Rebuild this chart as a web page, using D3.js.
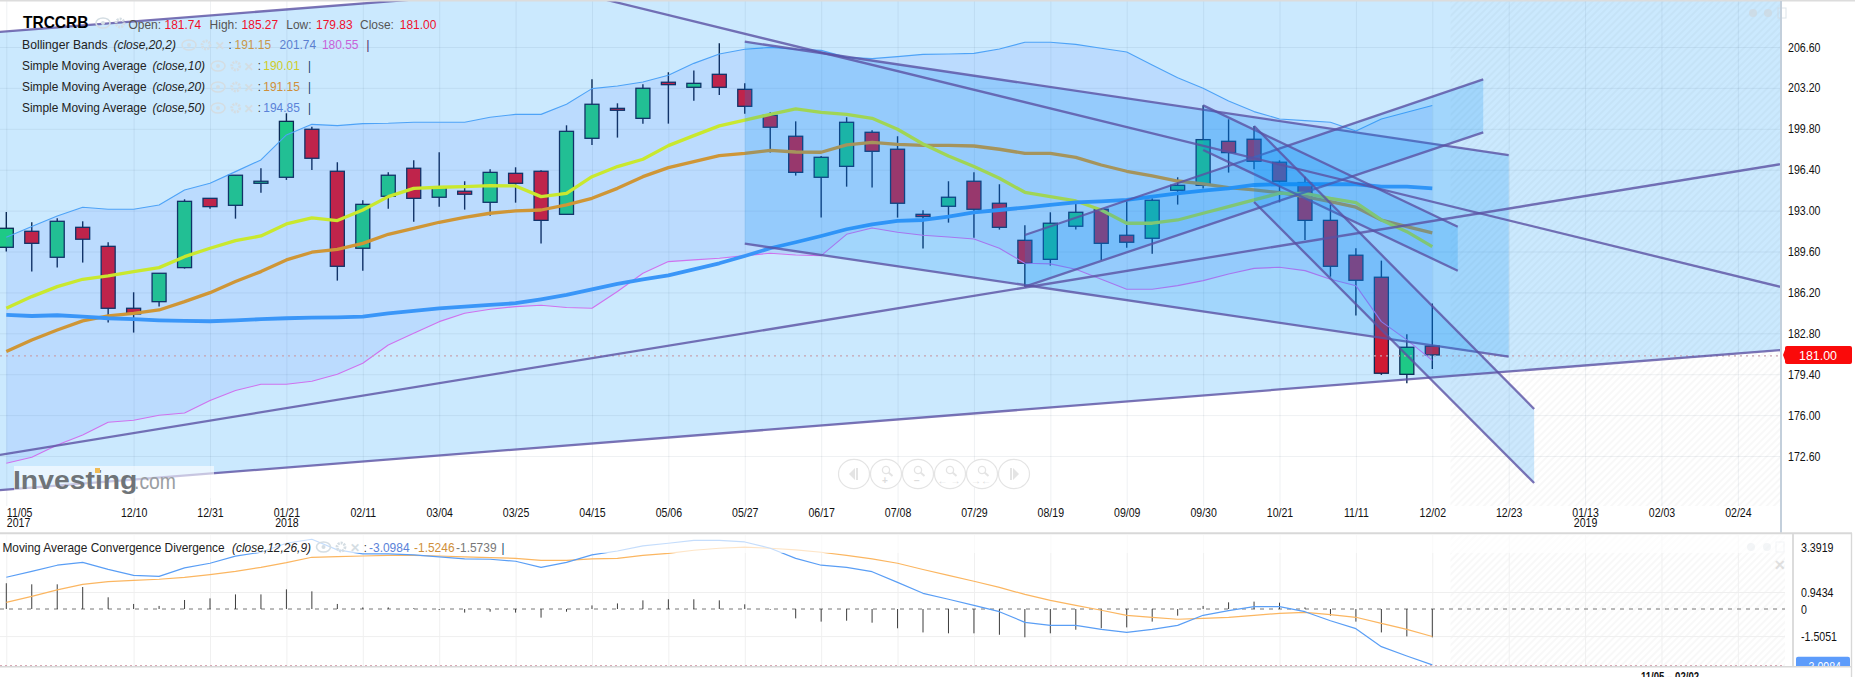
<!DOCTYPE html>
<html>
<head>
<meta charset="utf-8">
<title>TRCCRB</title>
<script src="https://cdn.jsdelivr.net/npm/d3@7"></script>
<style>
	html, body { margin: 0; padding: 0; background: #fff; overflow: hidden; }
	svg { display: block; }
	text { font-family: "Liberation Sans", Arial, sans-serif; }
</style>
</head>
<body>
<svg id="chart" width="1855" height="677"></svg>
<script>
// weekly candles, one entry per week from 11/05/2017 to 12/02/2018
var opens = [189.95,191.28,189.12,191.61,190.03,184.88,185.43,188.26,194.02,193.44,195.27,195.77,199.76,196.27,189.87,194.19,196.52,194.11,194.61,193.69,196.10,196.27,192.69,199.01,201.50,200.67,203.67,203.25,204.33,203.08,200.92,199.18,195.77,196.68,199.51,198.10,192.69,193.36,195.44,193.61,190.53,188.95,191.70,193.11,190.95,190.70,194.69,195.10,198.76,198.93,197.02,195.33,192.19,189.29,187.46,179.39,181.74];
var closes = [191.53,190.28,192.11,190.62,184.88,184.41,187.79,193.77,193.33,195.94,195.44,200.42,197.35,188.37,193.52,195.94,194.02,194.99,194.36,196.18,195.27,192.19,199.59,201.84,201.34,203.17,203.47,203.58,203.25,201.67,199.93,196.18,197.43,200.34,197.93,193.61,192.50,194.11,193.11,191.61,188.62,191.95,192.86,190.28,190.37,193.86,195.10,198.90,197.82,197.10,195.44,192.19,188.37,187.21,179.48,181.64,181.00];
var highs = [192.89,192.03,192.36,192.11,190.37,186.21,187.79,193.94,194.02,195.94,196.52,201.09,199.98,197.02,193.86,196.18,197.18,197.85,195.44,196.43,196.60,196.35,200.09,203.92,201.92,203.50,204.50,204.64,206.91,203.58,201.17,200.42,197.54,200.76,199.68,199.18,193.03,195.44,196.18,195.19,191.78,192.86,193.61,193.19,193.89,194.02,195.77,201.75,200.59,200.04,197.18,195.82,193.50,189.87,188.84,182.72,185.27];
var lows = [189.59,187.93,188.26,188.68,183.69,182.86,185.02,188.18,193.16,192.33,194.49,195.55,196.38,187.18,188.01,193.16,192.08,193.33,193.08,192.58,193.66,190.26,192.69,198.46,199.07,200.23,200.23,202.14,202.61,201.06,197.82,195.91,192.42,194.99,194.91,192.42,189.84,192.00,190.75,191.42,186.68,188.43,191.42,188.90,189.92,189.42,193.50,194.83,196.16,196.43,193.69,190.56,187.51,184.27,179.34,178.65,179.83];

var sma10 = [184.88,185.85,186.68,187.29,187.57,187.93,188.26,189.17,189.87,190.50,190.89,191.89,192.39,192.17,193.05,194.16,194.85,194.94,194.99,195.08,195.05,194.16,194.44,195.82,196.66,197.27,198.40,199.23,200.04,200.53,201.00,201.45,201.17,201.00,200.67,199.76,198.54,197.54,196.66,195.69,194.52,194.16,193.80,193.05,191.95,191.95,192.22,192.78,193.33,193.89,194.44,194.44,194.02,193.66,192.22,191.25,190.01];
var sma20 = [181.28,182.25,183.08,183.83,184.24,184.46,184.74,185.43,186.18,187.10,187.93,188.90,189.54,189.78,190.28,191.03,191.53,192.03,192.44,192.78,192.97,193.05,193.47,194.02,194.85,195.82,196.57,197.07,197.57,197.76,198.01,197.87,197.85,198.46,198.68,198.51,198.43,198.43,198.37,198.10,197.76,197.76,197.43,196.79,196.27,195.88,195.46,195.22,194.91,194.72,194.49,194.16,193.75,193.28,192.22,191.67,191.15];
var sma50 = [184.33,184.24,184.30,184.19,184.05,183.97,183.88,183.83,183.80,183.88,183.97,184.05,184.10,184.13,184.19,184.46,184.66,184.88,185.02,185.16,185.30,185.63,185.99,186.46,186.90,187.29,187.62,188.12,188.62,189.23,189.87,190.37,190.89,191.45,191.86,192.14,192.22,192.50,192.86,193.05,193.25,193.47,193.69,193.77,193.89,194.16,194.44,194.66,194.85,195.13,195.19,195.19,195.19,195.19,194.99,194.99,194.85];
var bbUpper = [190.78,191.67,192.55,193.28,193.11,193.11,193.47,194.72,195.27,196.24,197.21,199.29,200.17,200.06,200.23,200.26,200.34,200.34,200.34,200.76,201.00,201.00,201.84,203.14,203.36,203.69,204.25,205.24,206.02,206.41,206.57,206.41,206.32,205.74,205.63,205.80,205.99,206.02,206.07,206.44,206.99,206.99,206.82,206.49,206.19,205.10,204.05,203.17,202.11,201.23,200.62,200.48,200.34,199.62,200.62,201.17,201.74];
var bbLower = [172.00,172.49,173.52,174.35,175.40,175.57,175.99,176.18,177.21,178.04,178.56,178.56,178.81,179.39,180.31,181.83,182.80,183.77,184.46,184.80,185.02,185.13,184.94,184.88,186.27,187.79,188.76,188.90,189.04,189.26,189.45,189.31,189.26,191.03,191.56,191.20,190.95,190.81,190.64,189.87,188.62,188.57,188.12,187.29,186.46,186.46,186.76,187.18,187.73,188.20,188.29,188.01,187.29,186.76,183.77,182.25,180.55];

var macdLine = [1.76,2.09,2.43,2.59,2.20,1.87,1.81,2.28,2.54,2.93,3.15,3.65,3.87,3.28,3.06,3.06,3.00,2.89,2.78,2.76,2.65,2.31,2.59,3.00,3.22,3.50,3.65,3.81,3.81,3.72,3.37,2.81,2.43,2.31,2.07,1.48,0.87,0.54,0.20,-0.15,-0.74,-0.91,-0.91,-1.13,-1.30,-1.13,-0.91,-0.35,-0.09,0.13,0.13,-0.15,-0.65,-1.09,-2.09,-2.61,-3.0984];
var macdSignal = [0.37,0.70,1.06,1.37,1.52,1.59,1.65,1.76,1.91,2.09,2.31,2.57,2.87,2.91,2.94,2.98,2.98,2.94,2.89,2.85,2.81,2.70,2.70,2.78,2.81,2.98,3.09,3.26,3.37,3.43,3.37,3.28,3.15,2.98,2.78,2.54,2.19,1.87,1.54,1.20,0.81,0.48,0.20,-0.07,-0.35,-0.46,-0.57,-0.52,-0.46,-0.35,-0.24,-0.19,-0.31,-0.46,-0.80,-1.13,-1.5246];
var macdHist = [1.43,1.37,1.37,1.22,0.65,0.28,0.17,0.50,0.59,0.81,0.81,1.09,0.98,0.28,0.09,0.09,0.04,-0.06,-0.20,-0.15,-0.20,-0.48,-0.15,0.20,0.31,0.48,0.54,0.54,0.48,0.26,-0.04,-0.52,-0.70,-0.65,-0.76,-1.07,-1.30,-1.35,-1.35,-1.43,-1.57,-1.35,-1.15,-1.07,-1.02,-0.70,-0.37,0.17,0.37,0.41,0.35,0.09,-0.37,-0.70,-1.30,-1.52,-1.5739];

// tick labels
var tickWeeks = [0,5,8,11,14,17,20,23,26,29,32,35,38,41,44,47,50,53,56,59,62,65,68];
var tickDates = ["11/05","12/10","12/31","01/21","02/11","03/04","03/25","04/15","05/06","05/27","06/17","07/08","07/29","08/19","09/09","09/30","10/21","11/11","12/02","12/23","01/13","02/03","02/24"];
var tickYears = ["2017","","","2018","","","","","","","","","","","","","","","","","2019","",""];
var priceTicks = [206.6,203.2,199.8,196.4,193.0,189.6,186.2,182.8,179.4,176.0,172.6];
var macdTicks = [3.3919,0.9434,0,-1.5051];

// drawn trend lines as [week, price, week, price]
var wideChannelTop = [-0.25,207.85,69.7,219.48];
var wideChannelBottom = [-0.25,169.77,69.7,181.41];
var riseLine = [-0.25,172.69,69.7,196.87];
var fallLine = [23.57,210.51,69.7,186.65];
var channels = [
	[[29,207.04,59,197.62],[29,190.25,59,180.86]],
	[[40,190.97,58,203.91],[40,186.68,58,199.51]],
	[[47,201.75,57,191.66],[47,198.04,57,188.00]],
	[[49,200.03,60,176.51],[49,193.72,60,170.36]]
];

var paneRight = 1781;
var mainBottom = 506;
var macdTop = 535;
var macdBottom = 666;
var macdRight = 1793;
var hatchLeft = 1450.5;

var x = d3.scaleLinear().domain([0,56]).range([6.3,1432.3]);
var y = d3.scaleLinear().domain([206.6,172.6]).range([47,456]);
var yMacd = d3.scaleLinear().domain([0,0.9434]).range([609,592]);

var svg = d3.select("#chart");
var defs = svg.append("defs");

defs.append("clipPath").attr("id","mainClip").append("rect")
	.attr("x",0).attr("y",1).attr("width",paneRight).attr("height",532);
defs.append("clipPath").attr("id","macdClip").append("rect")
	.attr("x",0).attr("y",macdTop).attr("width",1855).attr("height",macdBottom - macdTop);

var hatch = defs.append("pattern").attr("id","hatch")
	.attr("width",5).attr("height",5)
	.attr("patternUnits","userSpaceOnUse")
	.attr("patternTransform","rotate(-45)");
hatch.append("line").attr("x1",0).attr("x2",5).attr("y1",2).attr("y2",2)
	.attr("stroke","#000").attr("stroke-opacity",0.04).attr("stroke-width",1.4);

var xScaleText = 0.85;

// text squeezed sideways, the reference was captured a bit narrow
function addText(parent, px, py, str, size, color, opts)
{
	opts = opts || {};
	return parent.append("text")
		.attr("transform","translate(" + px + "," + py + ") scale(" + (opts.sx || xScaleText) + ",1)")
		.attr("font-size",size)
		.attr("fill",color)
		.attr("font-weight",opts.weight || null)
		.attr("font-style",opts.style || null)
		.attr("text-anchor",opts.anchor || "start")
		.text(str);
}

function endpoints(seg)
{
	return [[x(seg[0]),y(seg[1])],[x(seg[2]),y(seg[3])]];
}

function drawSegment(parent, seg)
{
	var p = endpoints(seg);
	parent.append("line")
		.attr("x1",p[0][0]).attr("y1",p[0][1])
		.attr("x2",p[1][0]).attr("y2",p[1][1])
		.attr("stroke","#5a50a2")
		.attr("stroke-opacity",0.8)
		.attr("stroke-width",2.3);
}

function channelPath(top, bottom)
{
	var a = endpoints(top), b = endpoints(bottom);
	return "M" + a[0] + "L" + a[1] + "L" + b[1] + "L" + b[0] + "Z";
}

var main = svg.append("g").attr("clip-path","url(#mainClip)");

// big parallel channel is the pale blue background
main.append("path")
	.attr("d",channelPath(wideChannelTop,wideChannelBottom))
	.attr("fill","#cbe9fe");

main.append("rect")
	.attr("x",hatchLeft).attr("y",1)
	.attr("width",paneRight - hatchLeft).attr("height",mainBottom - 1)
	.attr("fill","url(#hatch)");

// grid
var gridColor = "rgba(40,70,100,0.075)";
main.append("g")
	.attr("transform","translate(0," + mainBottom + ")")
	.call(d3.axisBottom(x).tickValues(tickWeeks).tickSize(-(mainBottom - 1)).tickFormat(""))
	.call(function(g) { g.select(".domain").remove(); g.selectAll("line").attr("stroke",gridColor); });
main.append("g")
	.attr("transform","translate(" + paneRight + ",0)")
	.call(d3.axisLeft(y).tickValues(priceTicks).tickSize(paneRight).tickFormat(""))
	.call(function(g) { g.select(".domain").remove(); g.selectAll("line").attr("stroke",gridColor); });

// candles
var weeks = d3.range(closes.length);
var candle = main.append("g").selectAll("g").data(weeks).join("g");
candle.append("line")
	.attr("x1",function(i) { return x(i); })
	.attr("x2",function(i) { return x(i); })
	.attr("y1",function(i) { return y(highs[i]); })
	.attr("y2",function(i) { return y(lows[i]); })
	.attr("stroke","#0b2a55")
	.attr("stroke-width",1.4);
candle.append("rect")
	.attr("x",function(i) { return x(i) - 7; })
	.attr("width",14)
	.attr("y",function(i) { return y(Math.max(opens[i],closes[i])); })
	.attr("height",function(i) { return Math.abs(y(opens[i]) - y(closes[i])); })
	.attr("fill",function(i) { return closes[i] >= opens[i] ? "#1ec986" : "#d01a33"; })
	.attr("stroke","#0b2a55")
	.attr("stroke-width",1.3);

// bollinger band lies over the candles
main.append("path")
	.attr("d",d3.area()
		.x(function(i) { return x(i); })
		.y0(function(i) { return y(bbLower[i]); })
		.y1(function(i) { return y(bbUpper[i]); })(weeks))
	.attr("fill","rgba(70,120,255,0.116)");

function drawLine(parent, values, scale, color, width)
{
	parent.append("path")
		.attr("d",d3.line()
			.x(function(d, i) { return x(i); })
			.y(function(d) { return scale(d); })(values))
		.attr("fill","none")
		.attr("stroke",color)
		.attr("stroke-width",width)
		.attr("stroke-linejoin","round");
}

drawLine(main,bbUpper,y,"#4ea3f7",1.1);
drawLine(main,bbLower,y,"#cf72ee",1.1);
drawLine(main,sma20,y,"#cf9636",3.3);
drawLine(main,sma10,y,"#c9e82e",3.3);
drawLine(main,sma50,y,"#3a96f8",3.8);

// current price, dotted
main.append("line")
	.attr("x1",0).attr("x2",paneRight)
	.attr("y1",y(closes[closes.length - 1]) + 1).attr("y2",y(closes[closes.length - 1]) + 1)
	.attr("stroke","#c8a3b0")
	.attr("stroke-width",1.2)
	.attr("stroke-dasharray","2,4");

// drawn channels and trend lines sit on top
channels.forEach(function(c)
{
	main.append("path")
		.attr("d",channelPath(c[0],c[1]))
		.attr("fill","rgba(0,140,245,0.2)");
	drawSegment(main,c[0]);
	drawSegment(main,c[1]);
});
drawSegment(main,wideChannelTop);
drawSegment(main,wideChannelBottom);
drawSegment(main,riseLine);
drawSegment(main,fallLine);

// watermark
main.append("rect")
	.attr("x",14).attr("y",466).attr("width",200).attr("height",32)
	.attr("fill","rgba(255,255,255,0.6)");
addText(main,13,489,"Investing",26,"#6f7478",{ weight: "bold", sx: 1.09 });
addText(main,134,489,".com",22,"#9a9ea2",{ sx: 0.88 });
main.append("rect").attr("x",95).attr("y",468).attr("width",5).attr("height",5).attr("fill","#f0bc55");

function drawIcons(parent, xs, iy)
{
	var c = "#d4dde3";
	parent.append("ellipse").attr("cx",xs[0]).attr("cy",iy).attr("rx",7).attr("ry",5)
		.attr("fill","none").attr("stroke",c).attr("stroke-width",1.6);
	parent.append("circle").attr("cx",xs[0]).attr("cy",iy).attr("r",2).attr("fill",c);
	parent.append("circle").attr("cx",xs[1]).attr("cy",iy).attr("r",4)
		.attr("fill","none").attr("stroke",c).attr("stroke-width",2.8).attr("stroke-dasharray","2,1");
	if(xs[2])
	{
		addText(parent,xs[2],iy + 5,"\u2715",12,c,{ anchor: "middle", sx: 1, weight: "bold" });
	}
}

// legend block
var legend = svg.append("g");
addText(legend,23,28,"TRCCRB",16,"#000",{ weight: "bold", sx: 0.97 });
drawIcons(legend,[103,120],23);
var ohlc = [[128.5,"Open:","#555"],[164.5,"181.74","#f0102c"],[209.6,"High:","#555"],[241.6,"185.27","#f0102c"],[286.3,"Low:","#555"],[316,"179.83","#f0102c"],[360,"Close:","#555"],[399.8,"181.00","#f0102c"]];
ohlc.forEach(function(d) { addText(legend,d[0],29,d[1],13,d[2],{ sx: 0.92 }); });

addText(legend,22,49,"Bollinger Bands",13,"#222",{ sx: 0.94 });
addText(legend,113.5,49,"(close,20,2)",13,"#222",{ style: "italic", sx: 0.92 });
drawIcons(legend,[189,206,220],45);
addText(legend,228.5,49,":",13,"#333");
addText(legend,234.5,49,"191.15",13,"#c9974a",{ sx: 0.92 });
addText(legend,279.6,49,"201.74",13,"#5b7fd0",{ sx: 0.92 });
addText(legend,321.9,49,"180.55",13,"#c861d8",{ sx: 0.92 });
addText(legend,366.5,49,"|",13,"#4a1060");

var smaRows = [[70,"(close,10)","190.01","#cfcc28"],[91,"(close,20)","191.15","#cf8f3a"],[112,"(close,50)","194.85","#5a82d8"]];
smaRows.forEach(function(d)
{
	addText(legend,22,d[0],"Simple Moving Average",13,"#222",{ sx: 0.915 });
	addText(legend,152.6,d[0],d[1],13,"#222",{ style: "italic", sx: 0.92 });
	drawIcons(legend,[218,235.7,249],d[0] - 4);
	addText(legend,257.8,d[0],":",13,"#333");
	addText(legend,263.3,d[0],d[2],13,d[3],{ sx: 0.92 });
	addText(legend,308,d[0],"|",13,"#123a66");
});

// chart corner icons
var corner = svg.append("g").attr("opacity",0.7);
[[1753,13],[1768,13],[1751,547],[1767,547]].forEach(function(p)
{
	corner.append("circle").attr("cx",p[0]).attr("cy",p[1]).attr("r",4).attr("fill","#cfd8df");
});
[[1782,13],[1780,547]].forEach(function(p)
{
	corner.append("rect").attr("x",p[0] - 4).attr("y",p[1] - 5).attr("width",8).attr("height",10)
		.attr("fill","none").attr("stroke","#cfd8df");
});
addText(corner,1780,570,"\u2715",14,"#d6d6d6",{ anchor: "middle", sx: 1, weight: "bold" });

// zoom buttons under the chart: arrow, zoom in, zoom out, stretch, squeeze, arrow
var buttonX = [854,886,918,950,982,1014];
var buttonMark = ["", "+", "\u2212", "\u2190 \u2192", "\u2192\u2190", ""];
var buttonStroke = "#e4e4e4";
buttonX.forEach(function(bx, i)
{
	svg.append("ellipse").attr("cx",bx).attr("cy",474).attr("rx",15.5).attr("ry",14.6)
		.attr("fill","#fff").attr("stroke",buttonStroke).attr("stroke-width",1.2);
	if(i == 0 || i == 5)
	{
		var dir = i == 0 ? -1 : 1;
		svg.append("path")
			.attr("d","M" + (bx + dir * 5) + ",474L" + (bx - dir) + ",468V480Z")
			.attr("fill",buttonStroke);
		svg.append("line").attr("x1",bx - dir * 3).attr("x2",bx - dir * 3).attr("y1",468).attr("y2",480)
			.attr("stroke",buttonStroke).attr("stroke-width",2);
	}
	else
	{
		svg.append("circle").attr("cx",bx).attr("cy",470).attr("r",3.6)
			.attr("fill","none").attr("stroke",buttonStroke).attr("stroke-width",1.3);
		svg.append("line").attr("x1",bx + 2.6).attr("y1",472.6).attr("x2",bx + 6.5).attr("y2",476)
			.attr("stroke",buttonStroke).attr("stroke-width",2);
		addText(svg,bx - 1,484,buttonMark[i],10,"#dcdcdc",{ anchor: "middle", sx: 1, weight: "bold" });
	}
});

// main pane axes
var priceAxis = svg.append("g")
	.attr("transform","translate(" + paneRight + ",0)")
	.call(d3.axisRight(y).tickValues(priceTicks).tickSize(0).tickPadding(7).tickFormat(d3.format(".2f")));
priceAxis.select(".domain").remove();
priceAxis.selectAll("text")
	.attr("font-family","Liberation Sans")
	.attr("font-size",12.5)
	.attr("fill","#111")
	.attr("x",7 / xScaleText)
	.attr("transform","scale(" + xScaleText + ",1)");

var timeAxis = svg.append("g")
	.attr("transform","translate(0,506)")
	.call(d3.axisBottom(x).tickValues(tickWeeks).tickSize(0).tickPadding(0)
		.tickFormat(function(d, i) { return tickDates[i]; }));
timeAxis.select(".domain").remove();
timeAxis.selectAll("text")
	.attr("font-family","Liberation Sans")
	.attr("font-size",12)
	.attr("fill","#111")
	.attr("dy",0)
	.attr("y",11.5)
	.attr("transform","scale(" + 0.88 + ",1)")
	.attr("text-anchor",function(d) { return d === 0 ? "start" : "middle"; });
timeAxis.selectAll(".tick").append("text")
	.attr("font-family","Liberation Sans")
	.attr("font-size",12)
	.attr("fill","#111")
	.attr("y",21.5)
	.attr("transform","scale(" + 0.88 + ",1)")
	.attr("text-anchor",function(d) { return d === 0 ? "start" : "middle"; })
	.text(function(d, i) { return tickYears[i]; });

// borders and price tag
svg.append("line").attr("x1",0).attr("x2",1855).attr("y1",0.8).attr("y2",0.8)
	.attr("stroke","#dcdcdc").attr("stroke-width",1.6);
svg.append("line").attr("x1",paneRight).attr("x2",paneRight).attr("y1",1).attr("y2",533)
	.attr("stroke","#c3cfdb").attr("stroke-width",2);
svg.append("line").attr("x1",0).attr("x2",1852).attr("y1",533.3).attr("y2",533.3)
	.attr("stroke","#d8d8d8").attr("stroke-width",2);

var lastPriceY = y(closes[closes.length - 1]);
svg.append("path")
	.attr("d","M1783," + lastPriceY + "L1786," + (lastPriceY - 8) + "L1786," + (lastPriceY + 8) + "Z")
	.attr("fill","#fa0a0a");
svg.append("rect").attr("x",1785).attr("y",lastPriceY - 9).attr("width",67).attr("height",18).attr("rx",2)
	.attr("fill","#fa0a0a");
addText(svg,1818,lastPriceY + 5,"181.00",13.5,"#fff",{ anchor: "middle", sx: 0.92 });

// macd pane
var macd = svg.append("g").attr("clip-path","url(#macdClip)");

macd.append("rect")
	.attr("x",hatchLeft).attr("y",macdTop)
	.attr("width",1785 - hatchLeft).attr("height",macdBottom - macdTop)
	.attr("fill","url(#hatch)");

macd.append("g")
	.attr("transform","translate(0," + macdBottom + ")")
	.call(d3.axisBottom(x).tickValues(tickWeeks).tickSize(-(macdBottom - macdTop)).tickFormat(""))
	.call(function(g) { g.select(".domain").remove(); g.selectAll("line").attr("stroke","#f0f0f0"); });
macd.append("g")
	.attr("transform","translate(1785,0)")
	.call(d3.axisLeft(yMacd).tickValues([0.9434,-1.5051]).tickSize(1785).tickFormat(""))
	.call(function(g) { g.select(".domain").remove(); g.selectAll("line").attr("stroke","#efefef"); });

macd.append("line")
	.attr("x1",0).attr("x2",1785)
	.attr("y1",yMacd(0)).attr("y2",yMacd(0))
	.attr("stroke","#666")
	.attr("stroke-width",0.9)
	.attr("stroke-dasharray","4,5");

macd.selectAll(".hist").data(macdHist).join("line")
	.attr("class","hist")
	.attr("x1",function(d, i) { return x(i); })
	.attr("x2",function(d, i) { return x(i); })
	.attr("y1",yMacd(0))
	.attr("y2",function(d) { return yMacd(d); })
	.attr("stroke","#3d3d3d")
	.attr("stroke-width",1);

drawLine(macd,macdSignal,yMacd,"#fbb661",1.2);
drawLine(macd,macdLine,yMacd,"#5a9ef5",1.2);

// legend strip fades what passes behind it
macd.append("rect")
	.attr("x",0).attr("y",macdTop)
	.attr("width",1785).attr("height",18)
	.attr("fill","rgba(255,255,255,0.65)");

macd.append("line").attr("x1",0).attr("x2",1785)
	.attr("y1",macdBottom - 0.5).attr("y2",macdBottom - 0.5)
	.attr("stroke","#d9a9b5").attr("stroke-width",1).attr("stroke-dasharray","2,3");

addText(svg,2.4,552,"Moving Average Convergence Divergence",13,"#222",{ sx: 0.915 });
addText(svg,232,552,"(close,12,26,9)",13,"#222",{ style: "italic", sx: 0.92 });
drawIcons(svg,[323.5,341,354.7],547);
addText(svg,363.8,552,":",13,"#333");
addText(svg,369,552,"-3.0984",13,"#5a82d8",{ sx: 0.92 });
addText(svg,414,552,"-1.5246",13,"#cf8f3a",{ sx: 0.92 });
addText(svg,456,552,"-1.5739",13,"#777",{ sx: 0.92 });
addText(svg,501.5,552,"|",13,"#123a66");

var macdAxis = svg.append("g")
	.attr("transform","translate(" + macdRight + ",0)")
	.call(d3.axisRight(yMacd).tickValues(macdTicks).tickSize(0).tickPadding(8).tickFormat(function(d) { return String(d); }));
macdAxis.select(".domain").remove();
macdAxis.selectAll("text")
	.attr("font-family","Liberation Sans")
	.attr("font-size",12.5)
	.attr("fill","#111")
	.attr("x",8 / xScaleText)
	.attr("transform","scale(" + xScaleText + ",1)");

// last macd tag runs off the pane bottom
var tag = svg.append("g").attr("clip-path","url(#macdClip)");
var tagY = yMacd(macdLine[macdLine.length - 1]);
tag.append("rect").attr("x",1796).attr("y",tagY - 8)
	.attr("width",54).attr("height",18).attr("rx",2).attr("fill","#5d9cfb");
addText(tag,1823,tagY + 6,"-3.0984",12.5,"#fff",{ anchor: "middle" });

svg.append("line").attr("x1",macdRight).attr("x2",macdRight).attr("y1",macdTop - 1).attr("y2",macdBottom)
	.attr("stroke","#dcdcdc").attr("stroke-width",2);
svg.append("line").attr("x1",0).attr("x2",1852).attr("y1",666.8).attr("y2",666.8)
	.attr("stroke","#d8d8d8").attr("stroke-width",1.4);
svg.append("line").attr("x1",1851.5).attr("x2",1851.5).attr("y1",533).attr("y2",677)
	.attr("stroke","#d8d8d8").attr("stroke-width",1.4);

// date range, cut by the window edge as in the capture
addText(svg,1670,681,"11/05 \u2013 02/02",12,"#111",{ anchor: "middle", weight: "bold", sx: 0.8 });
</script>
</body>
</html>
